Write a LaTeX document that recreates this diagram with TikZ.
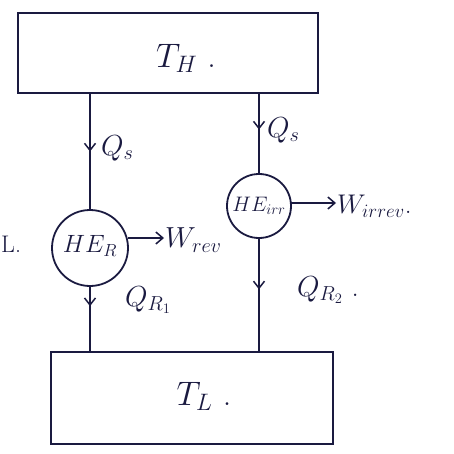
\RequirePackage{fix-cm}
\documentclass[tikz,border=0pt]{standalone}
\usetikzlibrary{arrows.meta,decorations.markings}
\definecolor{ink}{HTML}{1A1A40}
\begin{document}
\begin{tikzpicture}[x=1pt,y=-1pt,
  every node/.style={text=ink},
  res/.style={draw=ink,line width=1.8pt,minimum width=#1,inner sep=0pt},
  eng/.style={draw=ink,line width=1.8pt,circle,inner sep=0pt},
  flow/.style={draw=ink,line width=1.5pt,postaction={decorate},
     decoration={markings,mark=at position #1 with {\arrow{Straight Barb[length=7pt,width=11pt,line width=1.5pt]}}}},
  work/.style={draw=ink,line width=1.5pt,-{Straight Barb[length=7pt,width=12pt,line width=1.5pt]}},
  lbl/.style={font=\fontsize{29}{31}\selectfont,inner sep=1pt}]
\useasboundingbox (0,0) rectangle (453,454);
\node[res=300pt,minimum height=80pt] (hot) at (168,53) {};
\node[lbl,font=\fontsize{34}{36}\selectfont] (th) at (186,58) {$T_H$\ .};
\node[res=282pt,minimum height=92pt] (cold) at (192,398) {};
\node[lbl,font=\fontsize{34}{36}\selectfont] (tl) at (204,396) {$T_L$\ .};
\node[eng,minimum size=76pt] (her) at (90,248) {};
\node[lbl,font=\fontsize{25}{27}\selectfont] (herl) at (90,246) {$HE_R$};
\node[eng,minimum size=64pt] (hei) at (259,206) {};
\node[lbl,font=\fontsize{21}{23}\selectfont] (heil) at (259,206) {$HE_{irr}$};
\draw[flow=0.5] (hot.south -| her.north) -- (her.north);
\draw[flow=0.45] (hot.south -| hei.north) -- (hei.north);
\draw[flow=0.3] (her.south) -- (cold.north -| her.south);
\draw[flow=0.45] (hei.south) -- (cold.north -| hei.south);
\node[lbl,anchor=west] (qs1) at (100,148) {$Q_s$};
\node[lbl,anchor=west] (qs2) at (266,130) {$Q_s$};
\node[lbl,anchor=west] (qr1) at (124,300) {$Q_{R_1}$};
\node[lbl,anchor=west] (qr2) at (296,290) {$Q_{R_2}$\ .};
\coordinate (wrs) at (128,238);
\coordinate (wis) at (291,203);
\node[lbl,anchor=west] (wr) at (164,240) {$W_{rev}$};
\node[lbl,anchor=west,font=\fontsize{27}{29}\selectfont] (wi) at (336,206) {$W_{irrev}$.};
\draw[work] (wrs) -- (wr.west |- wrs);
\draw[work] (wis) -- (wi.west |- wis);
\node[lbl,anchor=west,font=\fontsize{24}{26}\selectfont] (l) at (0,244) {L.};
\end{tikzpicture}
\end{document}
